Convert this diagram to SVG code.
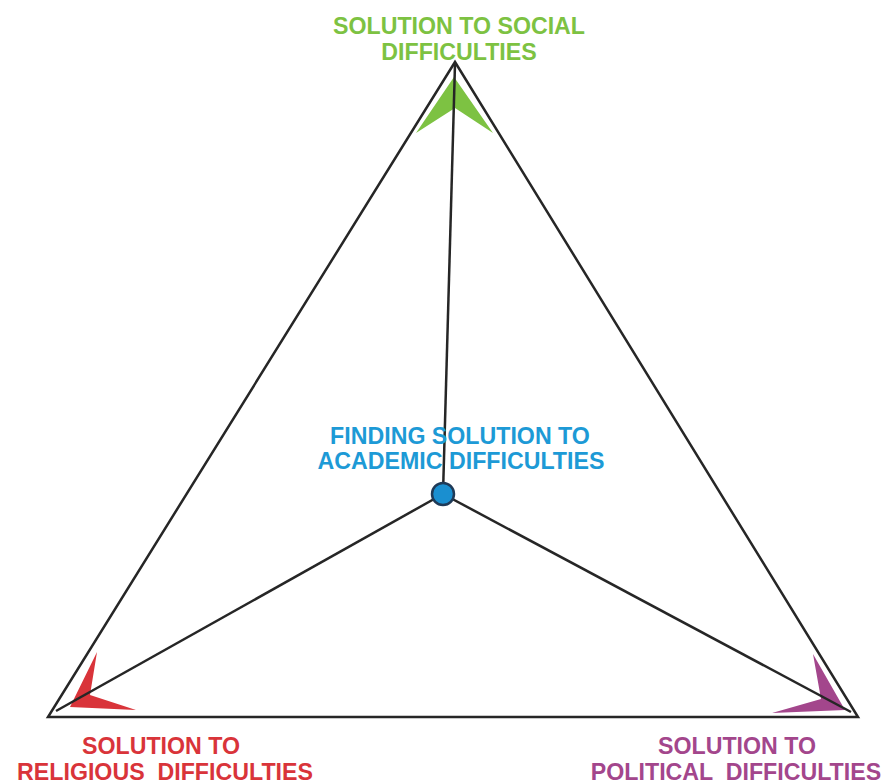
<svg xmlns="http://www.w3.org/2000/svg" width="885" height="784" viewBox="0 0 885 784">
<style>
.ln{stroke:#262626;stroke-width:2.5;fill:none;stroke-linejoin:miter}
.t{font-family:"Liberation Sans",Arial,sans-serif;font-weight:bold;font-size:23.2px;text-anchor:middle}
</style>
<rect width="885" height="784" fill="#fff"/>
<g id="arrowheads">
<polygon points="454,77 493,133 455,108 416,133" fill="#7dc242"/>
<polygon points="70,707 97,652 90,695 136,710" fill="#d9343a"/>
<polygon points="845,710 813,654 821,699 772,713" fill="#a3468c"/>
</g>
<g id="connectors">
<polygon class="ln" points="455,62 48,717 858,717"/>
<line class="ln" x1="443" y1="494" x2="455" y2="64"/>
<line class="ln" x1="443" y1="494" x2="56" y2="711"/>
<line class="ln" x1="443" y1="494" x2="851" y2="712"/>
</g>
<g id="social">
<text class="t" x="459" y="34" fill="#7dc242">SOLUTION TO SOCIAL</text>
<text class="t" x="459" y="60" fill="#7dc242">DIFFICULTIES</text>
</g>
<g id="academic">
<text class="t" x="460" y="444" fill="#1d9ad6">FINDING SOLUTION TO</text>
<text class="t" x="461" y="469" fill="#1d9ad6">ACADEMIC DIFFICULTIES</text>
<circle cx="443" cy="494" r="11" fill="#1a8fd0" stroke="#1f3a57" stroke-width="2.5"/>
</g>
<g id="religious">
<text class="t" x="161" y="754" fill="#d9343a">SOLUTION TO</text>
<text class="t" x="165" y="780" fill="#d9343a" xml:space="preserve">RELIGIOUS  DIFFICULTIES</text>
</g>
<g id="political">
<text class="t" x="737" y="754" fill="#a3468c">SOLUTION TO</text>
<text class="t" x="736" y="780" fill="#a3468c" xml:space="preserve">POLITICAL  DIFFICULTIES</text>
</g>
</svg>
